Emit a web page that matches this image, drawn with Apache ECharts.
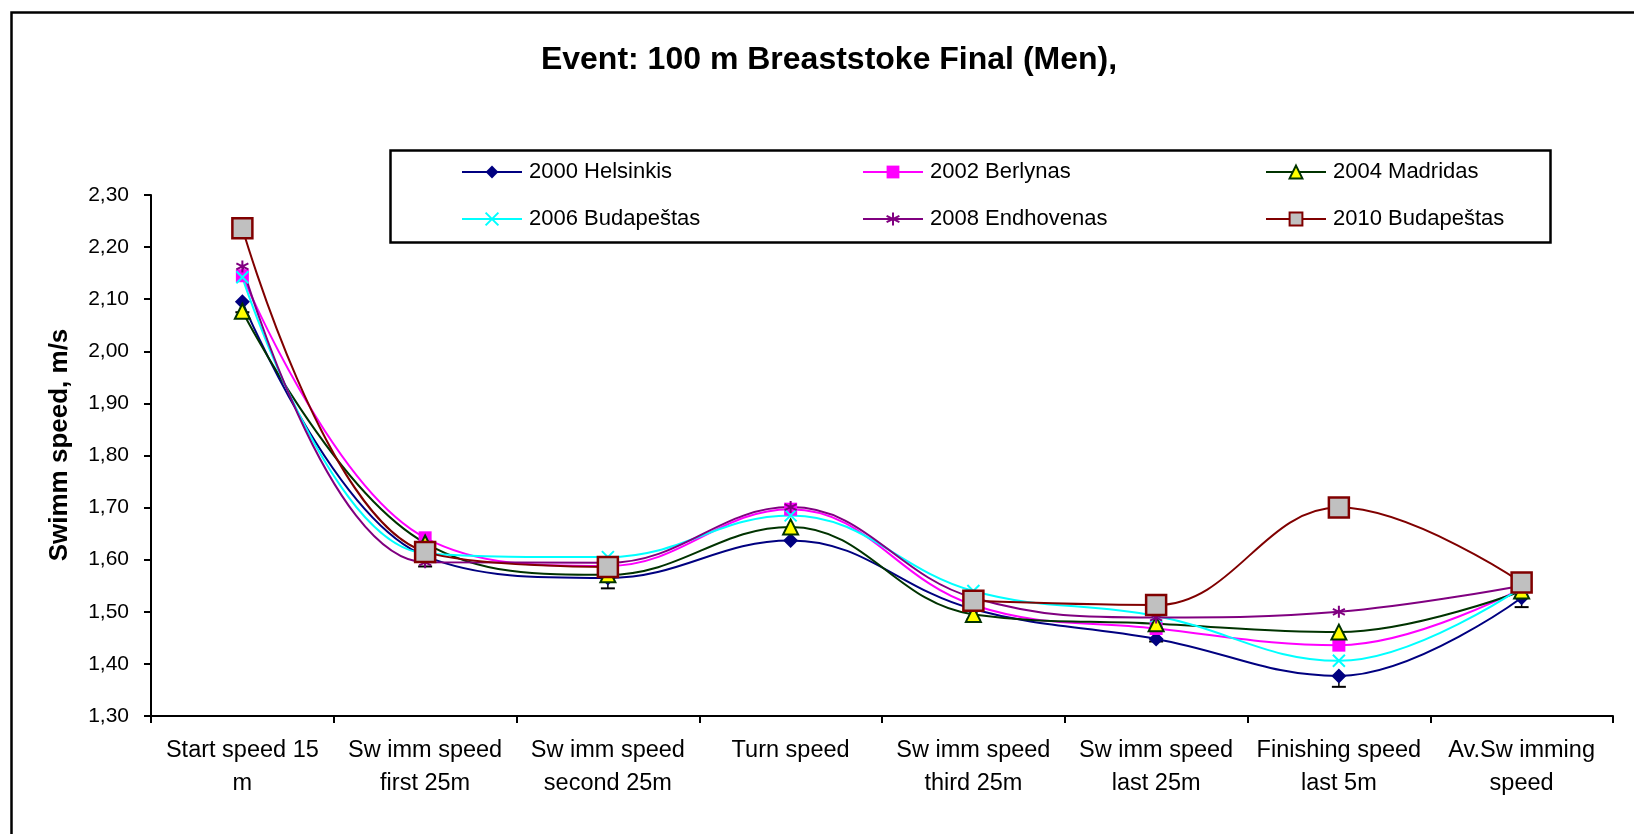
<!DOCTYPE html>
<html>
<head>
<meta charset="utf-8">
<script src="https://cdn.jsdelivr.net/npm/echarts@6/dist/echarts.min.js"></script>
<style>
html,body{margin:0;padding:0;background:#fff;}
#chart{width:1634px;height:834px;}
</style>
</head>
<body>
<div id="chart"></div>
<script>
const categories = ['Start speed 15\nm', 'Sw imm speed\nfirst 25m', 'Sw imm speed\nsecond 25m', 'Turn speed', 'Sw imm speed\nthird 25m', 'Sw imm speed\nlast 25m', 'Finishing speed\nlast 5m', 'Av.Sw imming\nspeed'];
const seriesNames = ['2000 Helsinkis', '2002 Berlynas', '2004 Madridas', '2006 Budapeštas', '2008 Endhovenas', '2010 Budapeštas'];
const helsinkis2000 = [2.095, 1.607, 1.565, 1.637, 1.505, 1.448, 1.377, 1.527];
const berlynas2002 = [2.145, 1.642, 1.588, 1.697, 1.513, 1.468, 1.436, 1.545];
const madridas2004 = [2.077, 1.632, 1.571, 1.663, 1.495, 1.477, 1.461, 1.540];
const budapestas2006 = [2.142, 1.612, 1.605, 1.685, 1.540, 1.492, 1.406, 1.547];
const endhovenas2008 = [2.163, 1.595, 1.594, 1.701, 1.527, 1.489, 1.500, 1.550];
const budapestas2010 = [2.236, 1.615, 1.586, null, 1.521, 1.513, 1.700, 1.556];
// lower ends of the error bars drawn under the 2000 series
const errorLow2000 = [2.075, 1.587, 1.545, null, 1.485, 1.443, 1.356, 1.509];
const yTicks = {min: 1.3, max: 2.3, interval: 0.1};

const FONT = 'Liberation Sans';
const chart = echarts.init(document.getElementById('chart'), null, {renderer: 'canvas'});

const xPath = 'path://M0,0L10,10M10,0L0,10';
const starPath = 'path://M5,0L5,10M0.7,2.5L9.3,7.5M0.7,7.5L9.3,2.5';

const styles = [
  {data: helsinkis2000, line: '#000080', symbol: 'diamond', size: 15, item: {color: '#000080'}},
  {data: berlynas2002, line: '#FF00FF', symbol: 'rect', size: 13, item: {color: '#FF00FF'}},
  {data: madridas2004, line: '#003300', symbol: 'triangle', size: 15, item: {color: '#FFFF00', borderColor: '#003300', borderWidth: 2}},
  {data: budapestas2006, line: '#00FFFF', symbol: xPath, size: 12, item: {color: '#00FFFF', borderColor: '#00FFFF', borderWidth: 2}},
  {data: endhovenas2008, line: '#800080', symbol: starPath, size: 12, item: {color: '#800080', borderColor: '#800080', borderWidth: 2}},
  {data: budapestas2010, line: '#800000', symbol: 'rect', size: 20, item: {color: '#C0C0C0', borderColor: '#800000', borderWidth: 2.5}}
];

const lineSeries = styles.map((s, i) => ({
  name: seriesNames[i],
  type: 'line',
  data: s.data,
  smooth: 0.4,
  connectNulls: false,
  symbol: s.symbol,
  symbolSize: s.size,
  showSymbol: true,
  z: 3 + (i === 5 ? 1 : 0),
  lineStyle: {color: s.line, width: 2},
  itemStyle: s.item,
  emphasis: {disabled: true}
}));

const errSeries = {
  type: 'custom',
  name: 'err',
  z: 2,
  data: helsinkis2000.map((v, i) => [i, v, errorLow2000[i]]).filter(d => d[2] !== null),
  renderItem: function (params, api) {
    const p = api.coord([api.value(0), api.value(1)]);
    const lo = api.coord([api.value(0), api.value(2)]);
    return {
      type: 'group',
      children: [
        {type: 'line', shape: {x1: p[0], y1: p[1], x2: lo[0], y2: lo[1]}, style: {stroke: '#000', lineWidth: 1.5}},
        {type: 'line', shape: {x1: lo[0] - 7, y1: lo[1], x2: lo[0] + 7, y2: lo[1]}, style: {stroke: '#000', lineWidth: 2}}
      ]
    };
  }
};

const legendPos = [
  {left: 456, top: 156}, {left: 857, top: 156}, {left: 1260, top: 156},
  {left: 456, top: 203}, {left: 857, top: 203}, {left: 1260, top: 203}
];
const legends = seriesNames.map((n, i) => ({
  data: [n],
  left: legendPos[i].left,
  top: legendPos[i].top,
  itemWidth: 60,
  itemHeight: 16,
  itemGap: 0,
  selectedMode: false,
  textStyle: {fontFamily: FONT, fontSize: 22, color: '#000', padding: [0, 0, 0, 2]}
}));

chart.setOption({
  animation: false,
  backgroundColor: '#fff',
  legend: legends,
  graphic: [
    {type: 'rect', left: 9, top: 10, shape: {width: 1660, height: 860}, style: {fill: 'none', stroke: '#000', lineWidth: 2.5}, z: -1, silent: true},
    {type: 'rect', left: 388, top: 148, shape: {width: 1160, height: 92}, style: {fill: 'none', stroke: '#000', lineWidth: 2.5}, z: -1, silent: true},
    {type: 'text', x: 829, y: 60, style: {text: 'Event: 100 m Breaststoke Final (Men),', fontFamily: FONT, fontSize: 32, fontWeight: 'bold', fill: '#000', textAlign: 'center', textVerticalAlign: 'middle'}, silent: true},
    {type: 'text', x: 60, y: 445, rotation: Math.PI / 2, style: {text: 'Swimm speed, m/s', fontFamily: FONT, fontSize: 26, fontWeight: 'bold', fill: '#000', textAlign: 'center', textVerticalAlign: 'middle'}, silent: true}
  ],
  grid: {left: 151, top: 195, right: 21, bottom: 118, containLabel: false},
  xAxis: {
    type: 'category',
    data: categories,
    boundaryGap: true,
    axisLine: {lineStyle: {color: '#000', width: 2}},
    axisTick: {show: true, alignWithLabel: false, length: 7, lineStyle: {color: '#000', width: 2}},
    axisLabel: {fontFamily: FONT, fontSize: 23.5, color: '#000', lineHeight: 33, margin: 18, interval: 0},
    splitLine: {show: false}
  },
  yAxis: {
    type: 'value',
    min: yTicks.min,
    max: yTicks.max,
    interval: yTicks.interval,
    axisLine: {show: true, lineStyle: {color: '#000', width: 2}},
    axisTick: {show: true, length: 7, lineStyle: {color: '#000', width: 2}},
    axisLabel: {fontFamily: FONT, fontSize: 21, color: '#000', margin: 22, formatter: v => v.toFixed(2).replace('.', ',')},
    splitLine: {show: false}
  },
  series: [errSeries].concat(lineSeries)
});
</script>
</body>
</html>
